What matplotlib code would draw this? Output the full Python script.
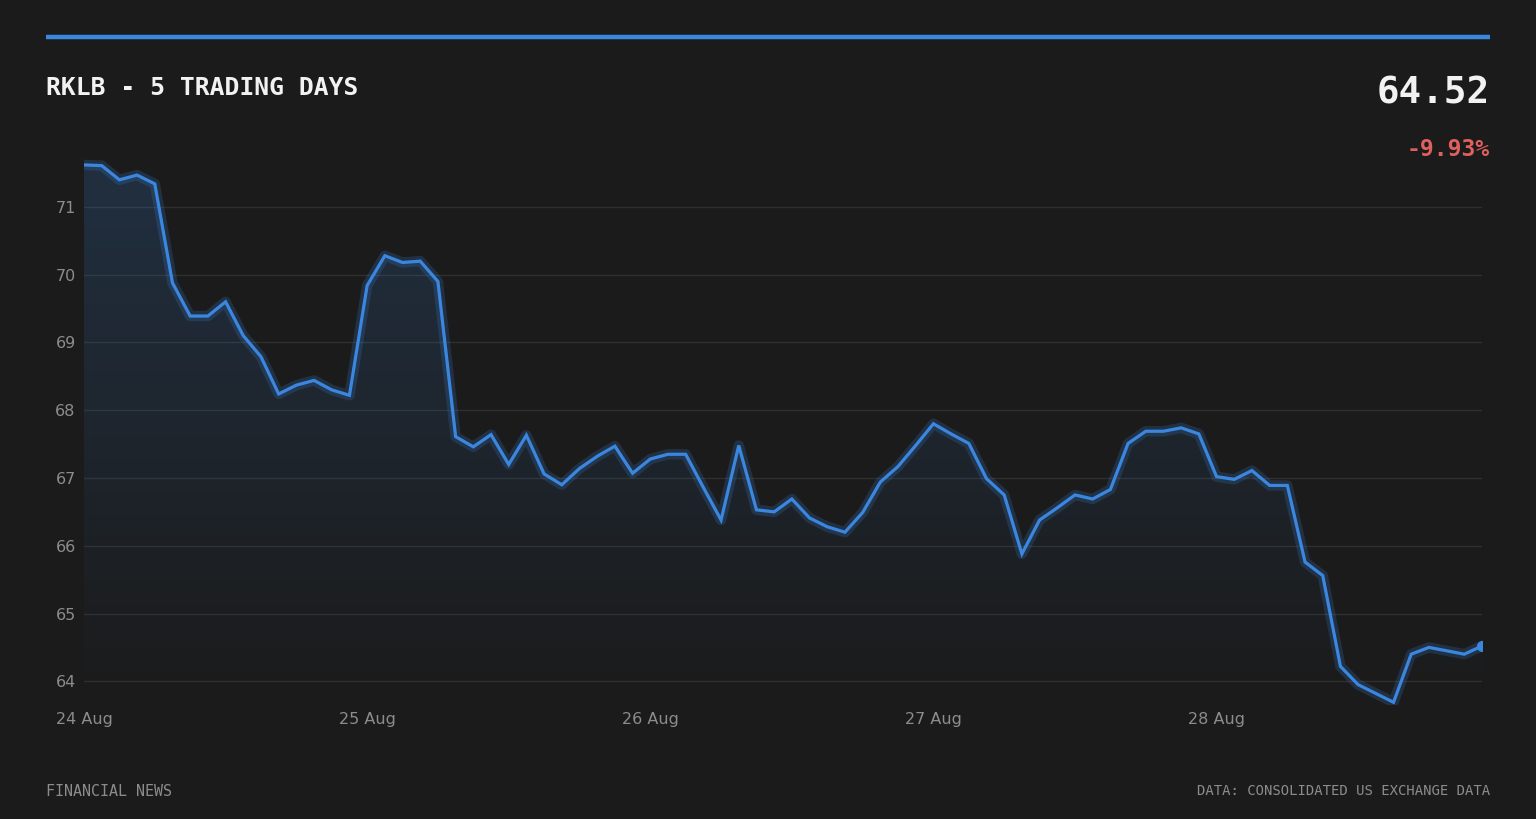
import matplotlib
matplotlib.use("Agg")
import matplotlib.pyplot as plt
import numpy as np
from matplotlib.colors import LinearSegmentedColormap

# RKLB, 16 samples per trading day, 24-28 Aug
prices = [
  71.62, 71.61, 71.40, 71.47, 71.34, 69.88, 69.39, 69.39,
  69.60, 69.10, 68.79, 68.24, 68.37, 68.44, 68.30, 68.22,
  69.84, 70.28, 70.18, 70.20, 69.90, 67.61, 67.46, 67.64,
  67.20, 67.63, 67.06, 66.90, 67.14, 67.32, 67.47, 67.07,
  67.28, 67.35, 67.35, 66.86, 66.38, 67.48, 66.53, 66.50,
  66.69, 66.41, 66.28, 66.20, 66.49, 66.94, 67.17, 67.48,
  67.80, 67.65, 67.51, 66.99, 66.75, 65.88, 66.38, 66.56,
  66.75, 66.69, 66.83, 67.51, 67.69, 67.69, 67.74, 67.65,
  67.02, 66.98, 67.11, 66.89, 66.89, 65.76, 65.56, 64.22,
  63.95, 63.82, 63.69, 64.40, 64.50, 64.45, 64.40, 64.52,
]
day_labels = ["24 Aug", "25 Aug", "26 Aug", "27 Aug", "28 Aug"]
y_ticks = [64, 65, 66, 67, 68, 69, 70, 71]
title = "RKLB - 5 TRADING DAYS"
last_price = "64.52"
change_pct = "-9.93%"

BG = "#1b1b1b"
BLUE = "#3b87e0"
GRID = "#2f2f2f"
MUTED = "#8c8c8c"
RED = "#e0605f"
MONO = "DejaVu Sans Mono"

W, H = 1536, 819
fig = plt.figure(figsize=(W / 100, H / 100), dpi=100, facecolor=BG)

x = np.arange(len(prices))
y = np.array(prices)
per_day = 16

left, right, top, bottom = 84, 1482, 150, 705
ax = fig.add_axes([left / W, 1 - bottom / H, (right - left) / W, (bottom - top) / H])
ax.set_facecolor(BG)

y_lo, y_hi = 63.65, 71.84
ax.set_xlim(0, len(prices) - 1)
ax.set_ylim(y_lo, y_hi)

# gradient area under the line
cmap = LinearSegmentedColormap.from_list(
  "fade", [(0.23, 0.53, 0.88, 0.0), (0.23, 0.53, 0.88, 0.19)])
grad = np.linspace(0, 1, 256).reshape(-1, 1)
poly = ax.fill_between(x, y, y_lo, color="none", lw=0)
img = ax.imshow(grad, cmap=cmap, aspect="auto", origin="lower",
                extent=(0, len(prices) - 1, y_lo, y.max()), zorder=1)
img.set_clip_path(poly.get_paths()[0], transform=ax.transData)

# glow + line
ax.plot(x, y, color=BLUE, lw=7.5, alpha=0.2, solid_joinstyle="round", zorder=3)
ax.plot(x, y, color=BLUE, lw=2.3, solid_joinstyle="miter", zorder=4)
ax.plot(x[-1:], y[-1:], "o", color=BLUE, ms=7, zorder=5)

ax.set_yticks(y_ticks)
ax.set_yticklabels([str(v) for v in y_ticks])
ax.set_xticks(np.arange(len(day_labels)) * per_day)
ax.set_xticklabels(day_labels)
ax.grid(axis="y", color=GRID, lw=1)
ax.grid(axis="x", visible=False)
ax.set_axisbelow(True)
for s in ax.spines.values():
  s.set_visible(False)
ax.tick_params(axis="both", length=0, colors=MUTED, labelsize=11.5)
ax.tick_params(axis="y", pad=6)
ax.tick_params(axis="x", pad=5)

# header
fig.add_artist(plt.Line2D([46 / W, 1490 / W], [1 - 37 / H] * 2, color=BLUE, lw=3.2,
                          solid_capstyle="butt"))
fig.text(46 / W, 1 - 88 / H, title, family=MONO, fontweight="bold", fontsize=17.7,
         color="#f2f2f2", ha="left", va="center")
fig.text(1490 / W, 1 - 93 / H, last_price, family=MONO, fontweight="bold", fontsize=27,
         color="#f2f2f2", ha="right", va="center")
fig.text(1490 / W, 1 - 149 / H, change_pct, family=MONO, fontweight="bold", fontsize=16.6,
         color=RED, ha="right", va="center")

# footer
fig.text(46 / W, 1 - 791 / H, "FINANCIAL NEWS", family=MONO, fontsize=10.8,
         color=MUTED, ha="left", va="center")
fig.text(1490 / W, 1 - 791 / H, "DATA: CONSOLIDATED US EXCHANGE DATA", family=MONO,
         fontsize=10, color=MUTED, ha="right", va="center")

fig.savefig("out.png", dpi=100, facecolor=BG)
